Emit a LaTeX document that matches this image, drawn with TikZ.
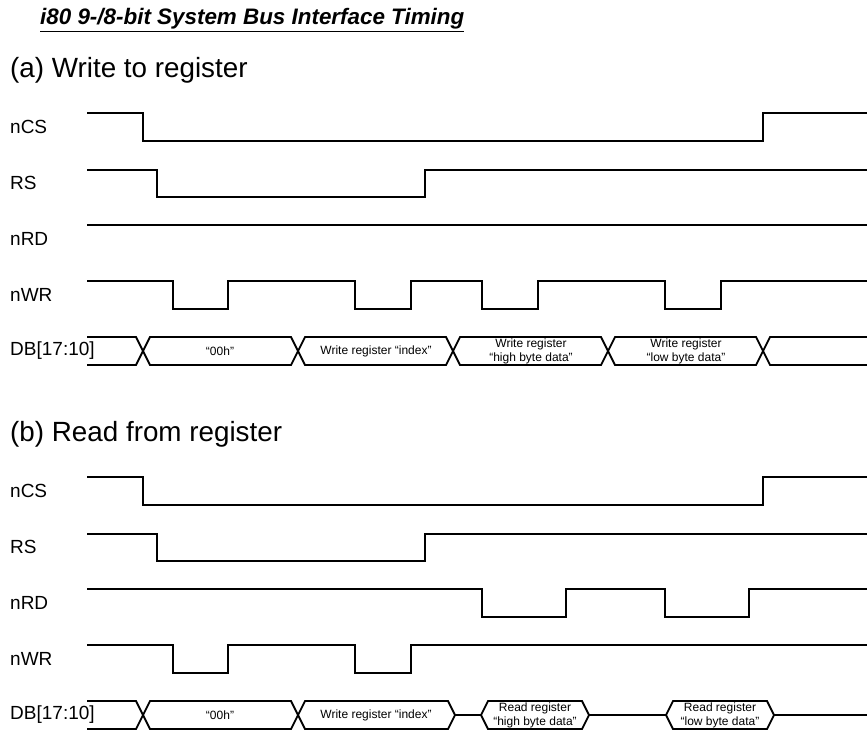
\documentclass[tikz,border=0pt]{standalone}
\usepackage{fontspec}
\setmainfont{Liberation Sans}
\usetikzlibrary{positioning}
\tikzset{sig/.style = {line width=1.8pt, line join=miter}}
\tikzset{signame/.style = {anchor=west, inner sep=0pt, font=\fontsize{19}{22}\selectfont}}
\tikzset{section/.style = {anchor=west, inner sep=0pt, font=\fontsize{27.8}{32}\selectfont}}
\tikzset{bustext/.style = {align=center, inner sep=0pt, font=\fontsize{12}{14}\selectfont}}

\begin{document}
\begin{tikzpicture}[x=1pt, y=-1pt]
\useasboundingbox (0,0) rectangle (867,731);
\node [anchor=west, inner sep=0pt, font=\fontsize{22.4}{26}\selectfont\bfseries\itshape] (title) at (40,20) {\underline{i80 9-/8-bit System Bus Interface Timing}};

\node [section] (secA) at (10,70) {(a) Write to register};
\node [signame] (ncsA) at (10,127) {nCS};
\node [signame] (rsA) at (10,183) {RS};
\node [signame] (nrdA) at (10,239) {nRD};
\node [signame] (nwrA) at (10,295) {nWR};
\node [signame] (dbA) at (10,351) {DB[17:10]};
\draw [sig] (87,113) -- (143,113) -- (143,141) -- (763,141) -- (763,113) -- (867,113);
\draw [sig] (87,170) -- (157,170) -- (157,197) -- (425,197) -- (425,170) -- (867,170);
\draw [sig] (87,225) -- (867,225);
\draw [sig] (87,281) -- (173,281) -- (173,309) -- (228,309) -- (228,281) -- (355,281) -- (355,309) -- (411,309) -- (411,281) -- (482,281) -- (482,309) -- (538,309) -- (538,281) -- (665,281) -- (665,309) -- (721,309) -- (721,281) -- (867,281);
\draw [sig] (87,337) -- (136,337) -- (150,365) -- (291,365) -- (305,337) -- (446,337) -- (460,365) -- (601,365) -- (615,337) -- (756,337) -- (770,365) -- (867,365);
\draw [sig] (87,365) -- (136,365) -- (150,337) -- (291,337) -- (305,365) -- (446,365) -- (460,337) -- (601,337) -- (615,365) -- (756,365) -- (770,337) -- (867,337);
\node [bustext] (dA1) at (220,351) {“00h”};
\node [bustext] (dA2) at (376,351) {Write register “index”};
\node [bustext] (dA3) at (531,351) {Write register\\“high byte data”};
\node [bustext] (dA4) at (686,351) {Write register\\“low byte data”};

\node [section] (secB) at (10,434) {(b) Read from register};
\node [signame] (ncsB) at (10,491) {nCS};
\node [signame] (rsB) at (10,547) {RS};
\node [signame] (nrdB) at (10,603) {nRD};
\node [signame] (nwrB) at (10,659) {nWR};
\node [signame] (dbB) at (10,715) {DB[17:10]};
\draw [sig] (87,477) -- (143,477) -- (143,505) -- (763,505) -- (763,477) -- (867,477);
\draw [sig] (87,534) -- (157,534) -- (157,561) -- (425,561) -- (425,534) -- (867,534);
\draw [sig] (87,589) -- (482,589) -- (482,617) -- (566,617) -- (566,589) -- (665,589) -- (665,617) -- (749,617) -- (749,589) -- (867,589);
\draw [sig] (87,645) -- (173,645) -- (173,673) -- (228,673) -- (228,645) -- (355,645) -- (355,673) -- (411,673) -- (411,645) -- (867,645);
\draw [sig] (87,701) -- (136,701) -- (150,729) -- (291,729) -- (305,701) -- (448,701) -- (455,715) -- (481,715) -- (488,701) -- (582,701) -- (589,715) -- (666,715) -- (673,701) -- (767,701) -- (774,715) -- (867,715);
\draw [sig] (87,729) -- (136,729) -- (150,701) -- (291,701) -- (305,729) -- (448,729) -- (455,715);
\draw [sig] (481,715) -- (488,729) -- (582,729) -- (589,715);
\draw [sig] (666,715) -- (673,729) -- (767,729) -- (774,715);
\node [bustext] (dB1) at (220,715) {“00h”};
\node [bustext] (dB2) at (376,715) {Write register “index”};
\node [bustext] (dB3) at (535,715) {Read register\\“high byte data”};
\node [bustext] (dB4) at (720,715) {Read register\\“low byte data”};
\end{tikzpicture}
\end{document}
